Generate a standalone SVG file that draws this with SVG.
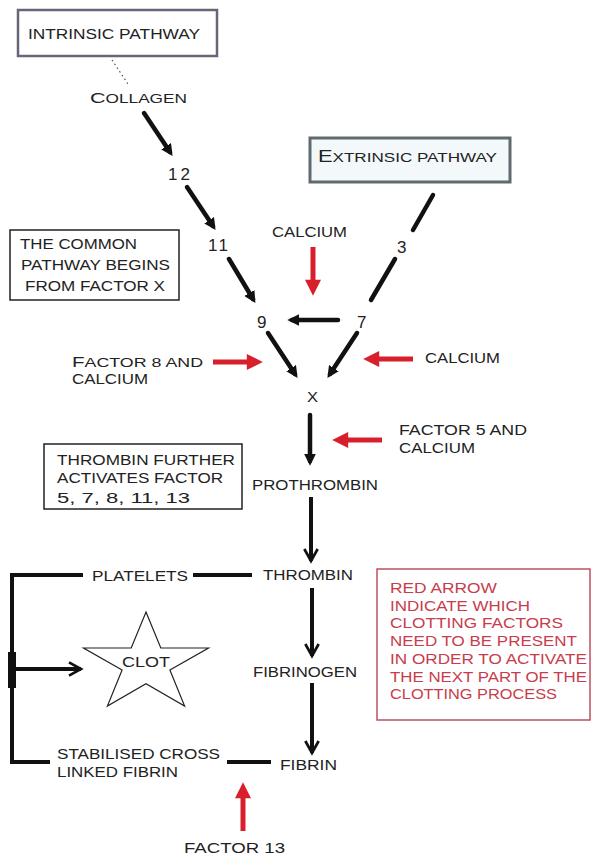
<svg xmlns="http://www.w3.org/2000/svg" width="593" height="858" viewBox="0 0 593 858">
<style>
text{font-family:"Liberation Sans",Arial,sans-serif;font-size:14px;fill:#222}
.red text{fill:#c83c4c}
.num{font-size:17px}
.blk{stroke:#111;stroke-width:4.5;fill:none;stroke-linecap:round}
.rd{stroke:#d8202c;stroke-width:5;fill:none}
.thin{stroke:#111;stroke-width:4;fill:none}
</style>
<defs>
<marker id="bh" viewBox="0 0 10 10" refX="6" refY="5" markerWidth="2.6" markerHeight="2.6" orient="auto" markerUnits="strokeWidth"><path d="M0,0L10,5L0,10z" fill="#111"/></marker>
<marker id="vh" viewBox="0 0 12 12" refX="10" refY="6" markerWidth="4" markerHeight="4" orient="auto" markerUnits="strokeWidth"><path d="M1,1L10,6L1,11" fill="none" stroke="#111" stroke-width="2"/></marker>
<marker id="rh" viewBox="0 0 10 10" refX="2" refY="5" markerWidth="3.4" markerHeight="3.2" orient="auto" markerUnits="strokeWidth"><path d="M0,0L10,5L0,10z" fill="#d8202c"/></marker>
</defs>
<rect width="593" height="858" fill="#fff"/>

<g id="connectors">
<line x1="112" y1="60" x2="128" y2="84" stroke="#444" stroke-width="1.2" stroke-dasharray="1.5,3"/>
<line class="blk" x1="144" y1="113" x2="170" y2="152" marker-end="url(#bh)"/>
<line class="blk" x1="187" y1="187" x2="213" y2="226" marker-end="url(#bh)"/>
<line class="blk" x1="229" y1="259" x2="253" y2="299" marker-end="url(#bh)"/>
<line class="blk" x1="268" y1="333" x2="295" y2="374" marker-end="url(#bh)"/>
<line class="blk" x1="357" y1="333" x2="330" y2="374" marker-end="url(#bh)"/>
<line class="blk" x1="433" y1="195" x2="413" y2="230"/>
<line class="blk" x1="395" y1="259" x2="371" y2="300"/>
<line class="blk" x1="338" y1="320" x2="292" y2="320" marker-end="url(#bh)"/>
<line class="blk" x1="310" y1="415" x2="310" y2="461" marker-end="url(#bh)"/>
<line class="thin" x1="311" y1="497" x2="311" y2="561" marker-end="url(#vh)"/>
<line class="thin" x1="312" y1="588" x2="312" y2="656" marker-end="url(#vh)"/>
<line class="thin" x1="312" y1="683" x2="312" y2="753" marker-end="url(#vh)"/>
<polyline class="thin" points="83,575 12,575 12,762 50,762"/>
<line class="thin" x1="193" y1="575" x2="252" y2="575"/>
<line class="thin" x1="227" y1="762" x2="271" y2="762"/>
<line x1="12" y1="652" x2="12" y2="688" stroke="#111" stroke-width="8"/>
<line class="thin" x1="12" y1="669" x2="81" y2="669" stroke-width="3.5" marker-end="url(#vh)"/>
<line class="rd" x1="313" y1="247" x2="313" y2="283" marker-end="url(#rh)"/>
<line class="rd" x1="213" y1="362" x2="250" y2="362" marker-end="url(#rh)"/>
<line class="rd" x1="413" y1="359" x2="376" y2="359" marker-end="url(#rh)"/>
<line class="rd" x1="382" y1="440" x2="345" y2="440" marker-end="url(#rh)"/>
<line class="rd" x1="243" y1="831" x2="243" y2="795" marker-end="url(#rh)"/>
</g>

<g id="intrinsic">
<rect x="18" y="10" width="199" height="46" fill="#fff" stroke="#6a6478" stroke-width="2.5"/>
<text x="28" y="39" textLength="172" lengthAdjust="spacingAndGlyphs" font-size="13">INTRINSIC PATHWAY</text>
</g>
<g id="collagen"><text x="90" y="103" textLength="97" lengthAdjust="spacingAndGlyphs"><tspan font-size="15">C</tspan><tspan font-size="12">OLLAGEN</tspan></text></g>
<g id="f12"><text class="num" x="168" y="180" textLength="22" lengthAdjust="spacing">12</text></g>
<g id="f11"><text class="num" x="208" y="251" textLength="20" lengthAdjust="spacing">11</text></g>
<g id="extrinsic">
<rect x="310" y="138" width="200" height="44" fill="#f3f8fa" stroke="#5f6a70" stroke-width="3"/>
<text x="318" y="162" textLength="179" lengthAdjust="spacingAndGlyphs"><tspan font-size="16">E</tspan><tspan font-size="12.5">XTRINSIC PATHWAY</tspan></text>
</g>
<g id="f3"><text class="num" x="397" y="253">3</text></g>
<g id="calcium1"><text x="272" y="237" textLength="75" lengthAdjust="spacingAndGlyphs" font-size="13">CALCIUM</text></g>
<g id="common">
<rect x="10" y="230" width="169" height="70" fill="#fff" stroke="#222" stroke-width="1.5"/>
<text x="20" y="249" textLength="117" lengthAdjust="spacingAndGlyphs">THE COMMON</text>
<text x="21" y="270" textLength="149" lengthAdjust="spacingAndGlyphs">PATHWAY BEGINS</text>
<text x="25" y="291" textLength="140" lengthAdjust="spacingAndGlyphs">FROM FACTOR X</text>
</g>
<g id="f9"><text class="num" x="257" y="328">9</text></g>
<g id="f7"><text class="num" x="357" y="328">7</text></g>
<g id="factor8">
<text x="72" y="367" textLength="131" lengthAdjust="spacingAndGlyphs"><tspan font-size="15">F</tspan><tspan font-size="13">ACTOR 8 AND</tspan></text>
<text x="72" y="384" textLength="76" lengthAdjust="spacingAndGlyphs" font-size="13">CALCIUM</text>
</g>
<g id="calcium2"><text x="425" y="363" textLength="75" lengthAdjust="spacingAndGlyphs" font-size="13">CALCIUM</text></g>
<g id="fx"><text x="307" y="402" textLength="11" lengthAdjust="spacingAndGlyphs" font-size="13">X</text></g>
<g id="factor5">
<text x="399" y="435" textLength="128" lengthAdjust="spacingAndGlyphs" font-size="13">FACTOR 5 AND</text>
<text x="399" y="453" textLength="76" lengthAdjust="spacingAndGlyphs" font-size="13">CALCIUM</text>
</g>
<g id="thrombin-note">
<rect x="44" y="444" width="198" height="65" fill="#fff" stroke="#222" stroke-width="1.5"/>
<text x="57" y="465" textLength="178" lengthAdjust="spacingAndGlyphs">THROMBIN FURTHER</text>
<text x="57" y="483" textLength="166" lengthAdjust="spacingAndGlyphs">ACTIVATES FACTOR</text>
<text x="57" y="503" textLength="133" lengthAdjust="spacingAndGlyphs" font-size="16">5, 7, 8, 11, 13</text>
</g>
<g id="prothrombin"><text x="252" y="490" textLength="126" lengthAdjust="spacingAndGlyphs" font-size="13">PROTHROMBIN</text></g>
<g id="thrombin"><text x="263" y="580" textLength="90" lengthAdjust="spacingAndGlyphs" font-size="13">THROMBIN</text></g>
<g id="platelets"><text x="92" y="581" textLength="96" lengthAdjust="spacingAndGlyphs" font-size="13">PLATELETS</text></g>
<g id="clot">
<polygon points="146,612 160.8,648 208.5,648 169.9,670.1 184.6,706 146,683.8 107.4,706 122.1,670.1 83.5,648 131.2,648" fill="#fff" stroke="#222" stroke-width="1.2"/>
<text x="122" y="667" textLength="48" lengthAdjust="spacingAndGlyphs" font-size="13">CLOT</text>
</g>
<g id="fibrinogen"><text x="253" y="677" textLength="104" lengthAdjust="spacingAndGlyphs" font-size="13">FIBRINOGEN</text></g>
<g id="fibrin"><text x="280" y="770" textLength="57" lengthAdjust="spacingAndGlyphs" font-size="13">FIBRIN</text></g>
<g id="stabilised">
<text x="57" y="759" textLength="163" lengthAdjust="spacingAndGlyphs" font-size="13">STABILISED CROSS</text>
<text x="57" y="777" textLength="121" lengthAdjust="spacingAndGlyphs" font-size="13">LINKED FIBRIN</text>
</g>
<g id="factor13"><text x="184" y="853" textLength="101" lengthAdjust="spacingAndGlyphs" font-size="15">FACTOR 13</text></g>
<g id="legend" class="red">
<rect x="377" y="569" width="213" height="151" fill="#fff" stroke="#c05060" stroke-width="1.5"/>
<text x="390" y="593" textLength="107" lengthAdjust="spacingAndGlyphs" font-size="13">RED ARROW</text>
<text x="390" y="611" textLength="140" lengthAdjust="spacingAndGlyphs" font-size="13">INDICATE WHICH</text>
<text x="390" y="628" textLength="173" lengthAdjust="spacingAndGlyphs" font-size="13">CLOTTING FACTORS</text>
<text x="390" y="646" textLength="187" lengthAdjust="spacingAndGlyphs" font-size="13">NEED TO BE PRESENT</text>
<text x="390" y="664" textLength="197" lengthAdjust="spacingAndGlyphs" font-size="13">IN ORDER TO ACTIVATE</text>
<text x="390" y="682" textLength="197" lengthAdjust="spacingAndGlyphs" font-size="13">THE NEXT PART OF THE</text>
<text x="390" y="699" textLength="167" lengthAdjust="spacingAndGlyphs" font-size="13">CLOTTING PROCESS</text>
</g>
</svg>
